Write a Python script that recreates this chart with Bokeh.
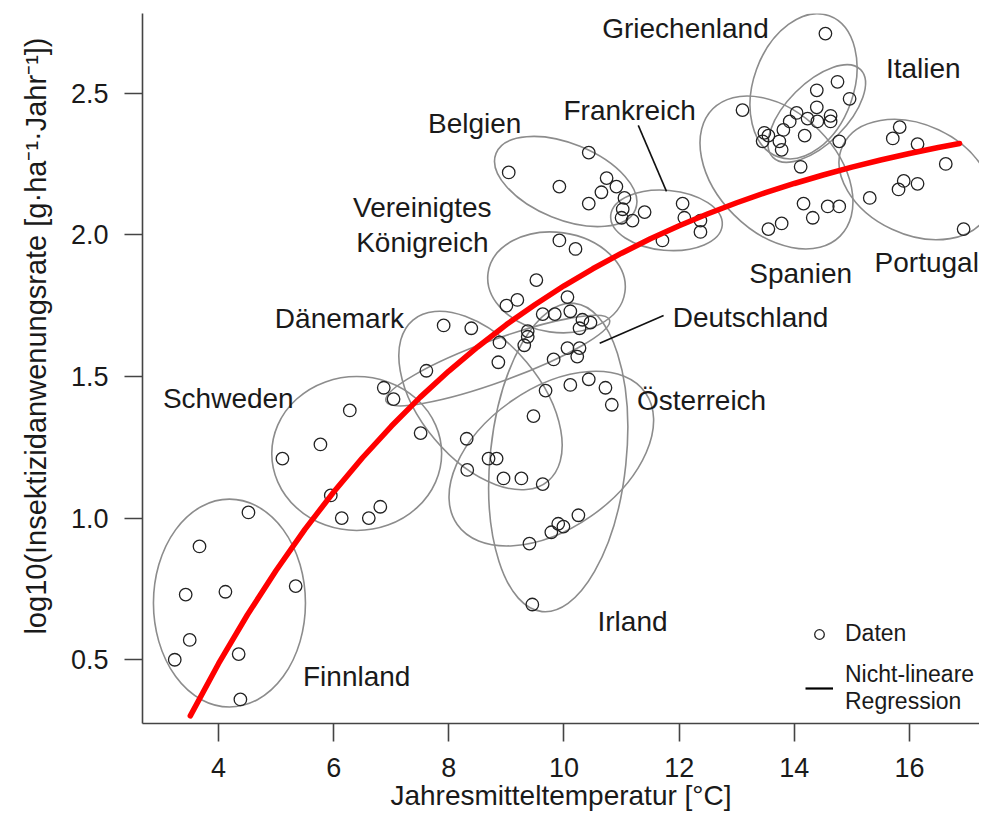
from bokeh.plotting import figure
from bokeh.models import Range1d, Legend, LegendItem, FixedTicker, Title
from bokeh.embed import file_html
from bokeh.resources import INLINE
from bokeh.core.properties import value

# ---------------- data ----------------
countries = ["Finnland", "Schweden", "Dänemark", "Vereinigtes Königreich", "Deutschland",
             "Österreich", "Irland", "Belgien", "Frankreich", "Griechenland", "Italien",
             "Spanien", "Portugal"]

temp_finnland = [4.52, 3.67, 3.43, 4.12, 5.34, 3.50, 3.24, 4.35, 4.38]
rate_finnland = [1.02, 0.90, 0.73, 0.74, 0.76, 0.57, 0.50, 0.52, 0.36]

temp_schweden = [6.28, 5.77, 5.11, 5.95, 6.14, 6.61, 6.81, 7.51]
rate_schweden = [1.38, 1.26, 1.21, 1.08, 1.00, 1.00, 1.04, 1.30]

temp_daenemark = [6.87, 7.04, 7.61, 7.91, 8.39, 8.31, 8.32, 8.69, 8.83, 8.95, 9.26, 9.63]
rate_daenemark = [1.46, 1.42, 1.52, 1.68, 1.67, 1.28, 1.17, 1.21, 1.21, 1.14, 1.14, 1.12]

temp_uk = [9.92, 10.20, 9.52, 10.06, 9.19, 9.00]
rate_uk = [1.98, 1.95, 1.84, 1.78, 1.77, 1.75]

temp_deutschland = [9.63, 9.84, 10.11, 10.32, 10.46, 10.27, 9.37, 9.37, 8.88, 9.31,
                    10.06, 10.27, 10.23, 9.82, 8.86]
rate_deutschland = [1.72, 1.72, 1.73, 1.70, 1.69, 1.67, 1.66, 1.64, 1.62, 1.61,
                    1.60, 1.60, 1.57, 1.56, 1.55]

temp_oesterreich = [9.68, 9.47, 10.11, 10.43, 10.72, 10.83]
rate_oesterreich = [1.45, 1.36, 1.47, 1.49, 1.46, 1.40]

temp_irland = [9.45, 10.25, 9.90, 9.99, 9.78, 9.40]
rate_irland = [0.695, 1.01, 0.98, 0.97, 0.95, 0.91]

temp_belgien = [9.04, 10.43, 9.92, 10.74, 10.91, 10.65, 10.43, 11.05, 11.02]
rate_belgien = [2.22, 2.29, 2.17, 2.20, 2.17, 2.15, 2.11, 2.13, 2.09]

temp_frankreich = [11.00, 11.19, 11.40, 12.06, 12.09, 12.37, 12.37, 11.71]
rate_frankreich = [2.06, 2.05, 2.08, 2.11, 2.06, 2.05, 2.01, 1.98]

temp_griechenland = [14.54, 13.10, 13.81, 13.48, 13.55, 13.45, 13.74, 13.78, 14.11]
rate_griechenland = [2.71, 2.44, 2.37, 2.36, 2.35, 2.33, 2.33, 2.30, 2.24]

temp_italien = [14.75, 14.39, 14.96, 14.39, 14.04, 13.92, 14.23, 14.40, 14.63, 14.63, 14.18, 14.78]
rate_italien = [2.54, 2.51, 2.48, 2.45, 2.43, 2.40, 2.41, 2.40, 2.42, 2.40, 2.35, 2.33]

temp_spanien = [14.16, 14.32, 14.58, 14.78, 13.78, 13.55]
rate_spanien = [2.11, 2.06, 2.10, 2.10, 2.04, 2.02]

temp_portugal = [15.83, 15.71, 16.14, 16.63, 15.90, 16.14, 15.81, 15.31, 16.94]
rate_portugal = [2.38, 2.34, 2.32, 2.25, 2.19, 2.18, 2.16, 2.13, 2.02]

# country ellipses: centre, extent along x / y (data units), tilt in degrees
ell_cx = [4.19, 6.40, 8.55, 9.87, 8.85, 9.78, 9.90, 10.03, 11.78, 14.16, 14.39, 13.69, 16.10]
ell_cy = [0.70, 1.228, 1.415, 1.832, 1.556, 1.21, 1.214, 2.188, 2.051, 2.524, 2.428, 2.22, 2.195]
ell_w = [2.64, 2.95, 3.65, 2.40, 4.13, 3.99, 2.36, 2.61, 1.945, 2.605, 2.153, 3.126, 2.779]
ell_h = [0.734, 0.544, 0.424, 0.353, 0.148, 0.494, 1.094, 0.268, 0.212, 0.353, 0.212, 0.424, 0.388]
ell_angle = [0, 0, -50, -8, 20, 35, -6, -22, -5, 70, 45, -45, -25]

# non-linear regression curve
fit_temp = [3.51, 4.0, 4.5, 5.0, 5.5, 6.0, 6.5, 7.0, 7.5, 8.0, 8.5, 9.0, 9.5, 10.0, 10.5,
            11.0, 11.5, 12.0, 12.5, 13.0, 13.5, 14.0, 14.5, 15.0, 15.5, 16.0, 16.5, 16.87]
fit_rate = [0.302, 0.486, 0.658, 0.815, 0.960, 1.092, 1.213, 1.324, 1.426, 1.519, 1.604,
            1.683, 1.754, 1.820, 1.880, 1.935, 1.986, 2.032, 2.074, 2.113, 2.149, 2.181,
            2.211, 2.239, 2.264, 2.287, 2.308, 2.322]

# country labels
lab_text = ["Griechenland", "Italien", "Frankreich", "Belgien", "Vereinigtes", "Königreich",
            "Dänemark", "Schweden", "Finnland", "Irland", "Österreich", "Deutschland",
            "Spanien", "Portugal"]
lab_x = [12.11, 16.24, 11.14, 8.45, 7.54, 7.54, 6.10, 4.17, 6.40, 11.19, 12.39, 13.24, 14.11, 16.30]
lab_y = [2.728, 2.587, 2.439, 2.393, 2.097, 1.973, 1.705, 1.422, 0.441, 0.635, 1.415, 1.708, 1.864, 1.902]

# leader lines (Frankreich, Deutschland)
lead_x = [[11.29, 11.78], [11.73, 10.62]]
lead_y = [[2.386, 2.153], [1.715, 1.617]]

x_ticks = [4, 6, 8, 10, 12, 14, 16]
y_ticks = [0.5, 1.0, 1.5, 2.0, 2.5]
y_tick_labels = ["0.5", "1.0", "1.5", "2.0", "2.5"]

x_title = "Jahresmitteltemperatur [°C]"
y_title = "log10(Insektizidanwenungsrate [g·ha⁻¹·Jahr⁻¹])"
legend_labels = ["Daten", "Nicht-lineare\nRegression"]

# ---------------- figure ----------------
FONT = "Liberation Sans"
TXT = "#1a1a1a"
AX = "#444444"

p = figure(width=979, height=818, output_backend="svg", toolbar_location=None,
           x_range=Range1d(2.68, 17.216), y_range=Range1d(0.275, 2.781),
           min_border_left=142, min_border_right=0, min_border_top=13, min_border_bottom=95)
p.outline_line_color = None
p.xgrid.visible = False
p.ygrid.visible = False
p.background_fill_color = "white"

for ax in (p.xaxis[0], p.yaxis[0]):
    ax.axis_line_color = AX
    ax.axis_line_width = 1.6
    ax.major_tick_line_color = AX
    ax.major_tick_line_width = 1.6
    ax.major_tick_out = 18
    ax.major_tick_in = 0
    ax.minor_tick_line_color = None
    ax.major_label_text_font = FONT
    ax.major_label_text_font_size = "27px"
    ax.major_label_text_color = TXT

p.xaxis.ticker = FixedTicker(ticks=x_ticks)
p.yaxis.ticker = FixedTicker(ticks=y_ticks)
p.yaxis.major_label_overrides = {t: s for t, s in zip(y_ticks, y_tick_labels)}
p.xaxis.major_label_standoff = 16
p.yaxis.major_label_standoff = 16

p.xaxis.axis_label = x_title
p.xaxis.axis_label_standoff = 0
p.xaxis.axis_label_text_font = FONT
p.xaxis.axis_label_text_font_size = "28px"
p.xaxis.axis_label_text_font_style = "normal"
p.xaxis.axis_label_text_color = TXT

# ellipses
p.ellipse(x=ell_cx, y=ell_cy, width=ell_w, height=ell_h, angle=ell_angle, angle_units="deg",
          fill_color=None, line_color="#8c8c8c", line_width=1.6)

# data points
all_t = (temp_finnland + temp_schweden + temp_daenemark + temp_uk + temp_deutschland +
         temp_oesterreich + temp_irland + temp_belgien + temp_frankreich + temp_griechenland +
         temp_italien + temp_spanien + temp_portugal)
all_r = (rate_finnland + rate_schweden + rate_daenemark + rate_uk + rate_deutschland +
         rate_oesterreich + rate_irland + rate_belgien + rate_frankreich + rate_griechenland +
         rate_italien + rate_spanien + rate_portugal)
pts = p.scatter(x=all_t, y=all_r, marker="circle", size=12.5, fill_color=None,
                line_color="#222222", line_width=1.3)

# leader lines
p.multi_line(xs=lead_x, ys=lead_y, line_color="#111111", line_width=1.6)

# labels
p.text(x=lab_x, y=lab_y, text=lab_text, text_font=value(FONT), text_font_size="28px",
       text_color=TXT, text_align="center", text_baseline="middle")

# regression curve
p.line(x=fit_temp, y=fit_rate, line_color="#ff0000", line_width=5.5, line_cap="round")

# legend (the regression entry is drawn in black, as in the original)
nan = float("nan")
legend_line = p.line(x=[nan, nan], y=[nan, nan], line_color="black", line_width=2.2)
legend = Legend(items=[LegendItem(label=legend_labels[0], renderers=[pts]),
                       LegendItem(label=legend_labels[1], renderers=[legend_line])],
                location=(663, 8), orientation="vertical",
                glyph_width=28, glyph_height=24, label_standoff=12, spacing=14,
                padding=0, margin=0, border_line_color=None, background_fill_alpha=0,
                label_text_font=FONT, label_text_font_size="23px", label_text_color=TXT)
p.add_layout(legend, "center")

# y axis title
p.add_layout(Title(text=y_title, align="right", offset=24, standoff=32,
                   text_font=FONT, text_font_size="29px", text_font_style="normal",
                   text_color=TXT), "left")

open("out.html", "w").write(file_html(p, INLINE))
